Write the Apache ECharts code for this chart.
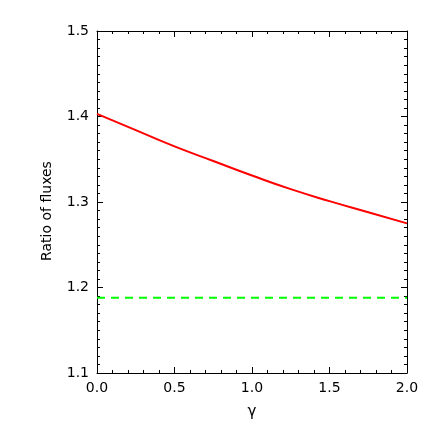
<!DOCTYPE html>
<html>
<head>
<meta charset="utf-8">
<script src="https://cdn.jsdelivr.net/npm/echarts@6/dist/echarts.min.js"></script>
<style>
  html, body { margin: 0; padding: 0; background: #fff; }
  #chart { width: 436px; height: 436px; }
</style>
</head>
<body>
<div id="chart"></div>
<script>
// values
var gamma = [0, 0.25, 0.5, 0.75, 1.0, 1.25, 1.5, 1.75, 2.0]
var ratioRed = [1.403, 1.384, 1.365, 1.348, 1.331, 1.315, 1.301, 1.288, 1.275]
var gammaFlat = [0, 2.0]
var ratioGreen = [1.188, 1.188]

var xTicks = [0, 0.5, 1.0, 1.5, 2.0]
var yTicks = [1.1, 1.2, 1.3, 1.4, 1.5]

function pairs (xs, ys) {
  return xs.map(function (x, i) { return [x, ys[i]] })
}

var font = 'DejaVu Sans'

function xAxis (pos, showLabel) {
  return {
    type: 'value',
    position: pos,
    min: xTicks[0],
    max: xTicks[xTicks.length - 1],
    interval: 0.5,
    axisLine: { show: true, onZero: false, lineStyle: { color: '#000', width: 1 } },
    axisTick: { show: true, inside: true, length: 6, lineStyle: { color: '#000' } },
    minorTick: { show: true, splitNumber: 5, length: 3, lineStyle: { color: '#000' } },
    splitLine: { show: false },
    axisLabel: {
      show: showLabel,
      color: '#000',
      fontFamily: font,
      fontSize: 14,
      margin: 8,
      formatter: function (v) { return v.toFixed(1) }
    },
    name: showLabel ? 'γ' : '',
    nameLocation: 'middle',
    nameGap: 32,
    nameTextStyle: { color: '#000', fontFamily: font, fontSize: 15 }
  }
}

function yAxis (pos, showLabel) {
  return {
    type: 'value',
    position: pos,
    min: yTicks[0],
    max: yTicks[yTicks.length - 1],
    interval: 0.1,
    axisLine: { show: true, onZero: false, lineStyle: { color: '#000', width: 1 } },
    axisTick: { show: true, inside: true, length: 6, lineStyle: { color: '#000' } },
    minorTick: { show: true, splitNumber: 10, length: 3, lineStyle: { color: '#000' } },
    splitLine: { show: false },
    axisLabel: {
      show: showLabel,
      color: '#000',
      fontFamily: font,
      fontSize: 14,
      margin: 8,
      formatter: function (v) { return v.toFixed(1) }
    }
  }
}

var chart = echarts.init(document.getElementById('chart'))
chart.setOption({
  animation: false,
  backgroundColor: '#fff',
  grid: { left: 97, right: 29, top: 31, bottom: 63 },
  xAxis: [xAxis('bottom', true), xAxis('top', false)],
  yAxis: [yAxis('left', true), yAxis('right', false)],
  graphic: [{
    type: 'text',
    x: 47,
    y: 211,
    rotation: Math.PI / 2,
    style: {
      text: 'Ratio of fluxes',
      fill: '#000',
      font: '14px "DejaVu Sans"',
      textAlign: 'center',
      textVerticalAlign: 'middle'
    }
  }],
  series: [
    {
      type: 'line',
      data: pairs(gamma, ratioRed),
      smooth: true,
      showSymbol: false,
      lineStyle: { color: '#ff0000', width: 2 }
    },
    {
      type: 'line',
      data: pairs(gammaFlat, ratioGreen),
      showSymbol: false,
      lineStyle: { color: '#00ff00', width: 2, type: [8, 6] }
    }
  ]
})
</script>
</body>
</html>
